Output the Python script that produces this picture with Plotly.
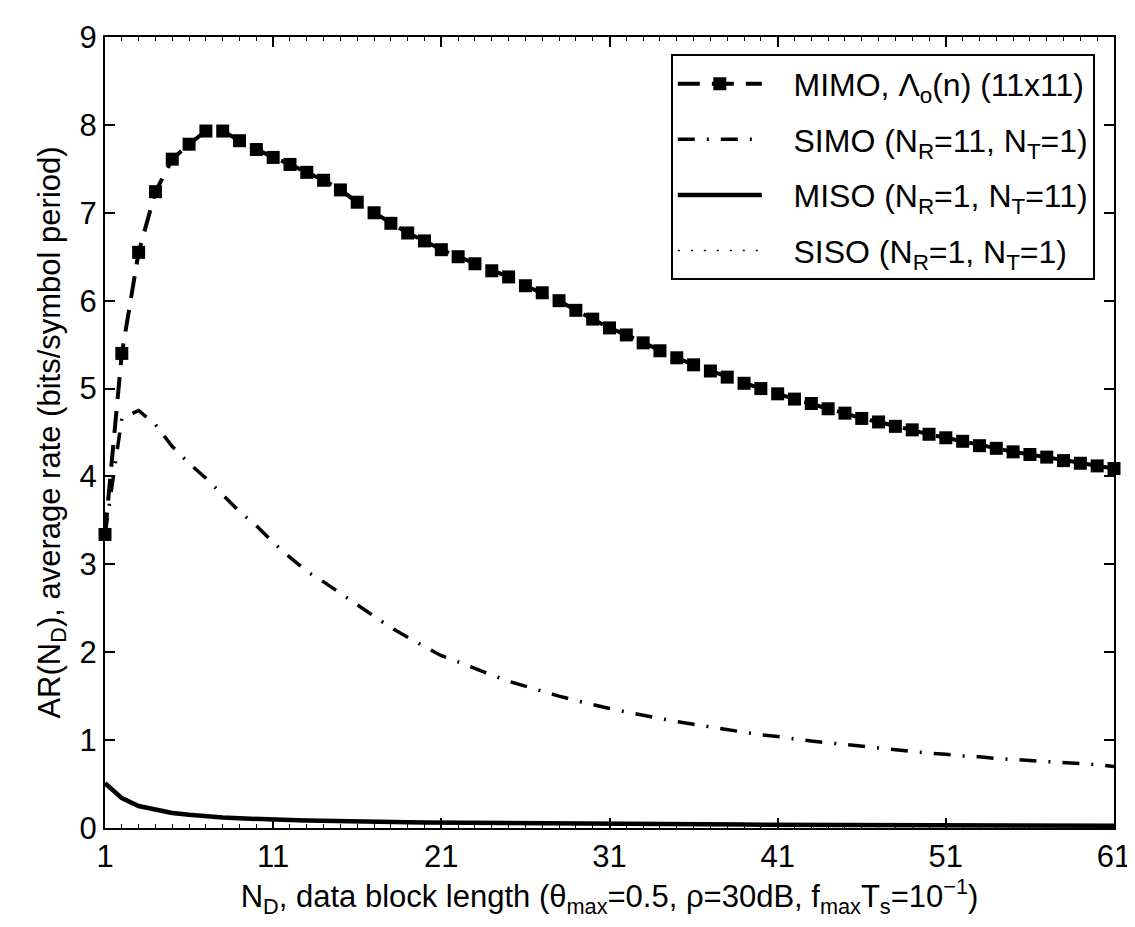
import plotly.graph_objects as go

nd = list(range(1, 62))

mimo = [3.34, 5.40, 6.55, 7.24, 7.61, 7.78, 7.93, 7.93, 7.82, 7.72,
        7.63, 7.55, 7.46, 7.37, 7.26, 7.12, 7.00, 6.88, 6.77, 6.68,
        6.58, 6.50, 6.42, 6.34, 6.27, 6.17, 6.09, 6.00, 5.89, 5.79,
        5.69, 5.61, 5.52, 5.43, 5.35, 5.27, 5.20, 5.13, 5.06, 5.00,
        4.94, 4.88, 4.83, 4.77, 4.72, 4.66, 4.62, 4.57, 4.53, 4.48,
        4.44, 4.40, 4.35, 4.32, 4.28, 4.25, 4.22, 4.18, 4.15, 4.12,
        4.09]

simo = [3.34, 4.66, 4.75, 4.59, 4.34, 4.15, 3.98, 3.79, 3.60, 3.44,
        3.25, 3.08, 2.92, 2.80, 2.67, 2.54, 2.40, 2.28, 2.17, 2.06,
        1.96, 1.89, 1.81, 1.74, 1.67, 1.61, 1.55, 1.50, 1.45, 1.40,
        1.36, 1.32, 1.28, 1.24, 1.21, 1.18, 1.15, 1.12, 1.09, 1.06,
        1.04, 1.01, 0.99, 0.97, 0.95, 0.93, 0.91, 0.89, 0.87, 0.85,
        0.84, 0.82, 0.81, 0.79, 0.78, 0.77, 0.75, 0.74, 0.73, 0.72,
        0.70]

miso = [0.51, 0.34, 0.25, 0.205, 0.17, 0.15, 0.13, 0.12, 0.11, 0.10,
        0.095, 0.09, 0.085, 0.08, 0.077, 0.074, 0.071, 0.069, 0.066, 0.064,
        0.062, 0.060, 0.058, 0.056, 0.055, 0.053, 0.052, 0.050, 0.049, 0.048,
        0.047, 0.046, 0.045, 0.044, 0.043, 0.042, 0.041, 0.040, 0.039, 0.038,
        0.037, 0.036, 0.036, 0.035, 0.034, 0.034, 0.033, 0.032, 0.032, 0.031,
        0.031, 0.030, 0.030, 0.029, 0.029, 0.028, 0.028, 0.027, 0.027, 0.026,
        0.026]

siso = [0.50, 0.33, 0.245, 0.20, 0.165, 0.145, 0.127, 0.117, 0.107, 0.098,
        0.093, 0.088, 0.083, 0.078, 0.075, 0.072, 0.069, 0.067, 0.064, 0.062,
        0.060, 0.058, 0.056, 0.054, 0.053, 0.051, 0.050, 0.048, 0.047, 0.046,
        0.045, 0.044, 0.043, 0.042, 0.041, 0.040, 0.039, 0.038, 0.037, 0.036,
        0.035, 0.034, 0.034, 0.033, 0.032, 0.032, 0.031, 0.030, 0.030, 0.029,
        0.029, 0.028, 0.028, 0.027, 0.027, 0.026, 0.026, 0.025, 0.025, 0.024,
        0.024]

x_ticks = [1, 11, 21, 31, 41, 51, 61]
y_ticks = [0, 1, 2, 3, 4, 5, 6, 7, 8, 9]

FONT = "Liberation Sans, Arial, Helvetica, sans-serif"
FS = 31
LFS = 32
PAD = "\u00a0\u00a0\u00a0"

fig = go.Figure()

fig.add_trace(go.Scatter(
    x=nd, y=mimo, mode="lines+markers",
    name=PAD + "MIMO, \u039b<sub>o</sub>(n) (11x11)",
    line=dict(color="black", width=4, dash="22px,12px"),
    marker=dict(symbol="square", size=13, color="black"),
    cliponaxis=False, legendgroup="a"))

fig.add_trace(go.Scatter(
    x=nd, y=simo, mode="lines",
    name=PAD + "SIMO (N<sub>R</sub>=11, N<sub>T</sub>=1)",
    line=dict(color="black", width=3.5, dash="17px,12px,2px,12px"),
    legendgroup="b"))

fig.add_trace(go.Scatter(
    x=nd, y=miso, mode="lines",
    name=PAD + "MISO (N<sub>R</sub>=1, N<sub>T</sub>=11)",
    line=dict(color="black", width=4.5),
    legendgroup="c"))

fig.add_trace(go.Scatter(
    x=nd, y=siso, mode="lines",
    name=PAD + "SISO (N<sub>R</sub>=1, N<sub>T</sub>=1)",
    line=dict(color="black", width=1.5, dash="2px,11px"),
    legendgroup="d"))

axis_common = dict(
    showline=True, linecolor="black", linewidth=2, mirror="allticks",
    ticks="inside", ticklen=10, tickwidth=1.5, tickcolor="black",
    showgrid=False, zeroline=False, ticklabeloverflow="allow",
    tickfont=dict(family=FONT, size=FS, color="black"),
)

fig.update_xaxes(
    range=[1, 61], tickvals=x_ticks, ticktext=[str(v) for v in x_ticks],
    minor=dict(ticks="inside", ticklen=4, tickwidth=1, tickcolor="black", dtick=1, tick0=1),
    title=dict(text="N<sub>D</sub>, data block length (\u03b8<sub>max</sub>=0.5, \u03c1=30dB, f<sub>max</sub>T<sub>s</sub>=10<sup>\u22121</sup>)",
               font=dict(family=FONT, size=FS, color="black"), standoff=12),
    **axis_common)

fig.update_yaxes(
    range=[0, 9], tickvals=y_ticks, ticktext=[str(v) for v in y_ticks],
    title=dict(text="AR(N<sub>D</sub>), average rate (bits/symbol period)",
               font=dict(family=FONT, size=FS, color="black"), standoff=10),
    **axis_common)

fig.update_layout(
    width=1135, height=927,
    margin=dict(l=97, r=21, t=17, b=107),
    paper_bgcolor="white", plot_bgcolor="white",
    font=dict(family=FONT, size=FS, color="black"),
    showlegend=True,
    legend=dict(
        x=0.981, y=0.978, xanchor="right", yanchor="top",
        bgcolor="white", bordercolor="black", borderwidth=2,
        font=dict(family=FONT, size=LFS, color="black"),
        itemwidth=84, tracegroupgap=11, traceorder="grouped",
    ),
)

fig.write_html("out.html")
